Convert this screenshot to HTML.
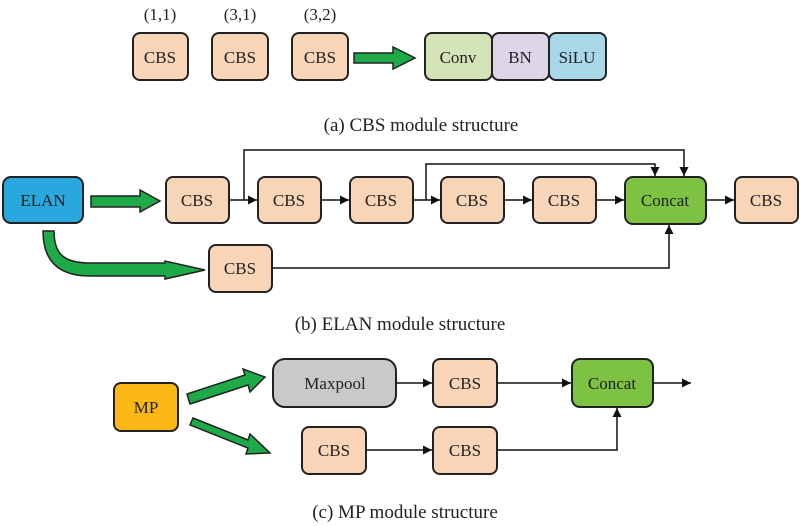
<!DOCTYPE html>
<html><head><meta charset="utf-8"><style>
html,body{margin:0;padding:0;background:#fff;}
svg{display:block;}
text{font-family:"Liberation Serif",serif;fill:#222;}
</style></head><body>
<svg width="800" height="526" viewBox="0 0 800 526" xmlns="http://www.w3.org/2000/svg">
<defs>
<marker id="ah" viewBox="0 0 10 10" refX="10" refY="5" markerWidth="9" markerHeight="9" markerUnits="userSpaceOnUse" orient="auto"><path d="M0,0 L10,5 L0,10 z" fill="#111"/></marker>
</defs>
<g stroke="#222" stroke-width="2">
<!-- (a) -->
<rect x="133" y="33" width="55" height="47" rx="7" fill="#f9d5b8"/>
<rect x="212" y="33" width="56" height="47" rx="7" fill="#f9d5b8"/>
<rect x="292" y="33" width="56" height="47" rx="7" fill="#f9d5b8"/>
<rect x="425" y="33" width="67" height="47" rx="7" fill="#d5e4b8"/>
<rect x="492" y="33" width="57" height="47" rx="7" fill="#dcd5e8"/>
<rect x="549" y="33" width="57" height="47" rx="7" fill="#a8d8e8"/>
<path d="M354,53 H393 V47 L415,58 L393,69 V63 H354 Z" fill="#1faa4a" stroke-width="1.5"/>
<!-- (b) -->
<rect x="3" y="177" width="80" height="46" rx="8" fill="#29a8e0"/>
<rect x="166" y="177" width="63" height="46" rx="7" fill="#f9d5b8"/>
<rect x="258" y="177" width="63" height="46" rx="7" fill="#f9d5b8"/>
<rect x="350" y="177" width="63" height="46" rx="7" fill="#f9d5b8"/>
<rect x="441" y="177" width="63" height="46" rx="7" fill="#f9d5b8"/>
<rect x="533" y="177" width="63" height="46" rx="7" fill="#f9d5b8"/>
<rect x="625" y="177" width="81" height="47" rx="8" fill="#7dc242"/>
<rect x="735" y="177" width="63" height="46" rx="7" fill="#f9d5b8"/>
<rect x="209" y="245" width="63" height="47" rx="7" fill="#f9d5b8"/>
<path d="M91,196 H140 V190 L160,201 L140,212 V207 H91 Z" fill="#1faa4a" stroke-width="1.5"/>
<path d="M43,231 H54 C54,255 65,263 90,263 H165 V261 L205,270 L165,279 V276 H90 C60,276 43,262 43,231 Z" fill="#1faa4a" stroke-width="1.5"/>
<!-- (c) -->
<rect x="114" y="383" width="64" height="48" rx="7" fill="#fbb814"/>
<rect x="273" y="359" width="123" height="48" rx="12" fill="#c8c9cb"/>
<rect x="433" y="359" width="64" height="48" rx="7" fill="#f9d5b8"/>
<rect x="572" y="359" width="81" height="48" rx="8" fill="#7dc242"/>
<rect x="302" y="427" width="64" height="47" rx="7" fill="#f9d5b8"/>
<rect x="433" y="427" width="64" height="47" rx="7" fill="#f9d5b8"/>
<path d="M187,394 L245,375 L243,369 L265,377 L250,392 L248,385 L190,404 Z" fill="#1faa4a" stroke-width="1.5"/>
<path d="M193,418 L248,440 L250,434 L270,453 L246,454 L248,448 L190,425 Z" fill="#1faa4a" stroke-width="1.5"/>
</g>
<g stroke="#111" stroke-width="1.5" fill="none">
<line x1="229" y1="200" x2="257" y2="200" marker-end="url(#ah)"/>
<polyline points="244,200 244,150 684,150 684,176" marker-end="url(#ah)"/>
<line x1="321" y1="200" x2="349" y2="200" marker-end="url(#ah)"/>
<line x1="413" y1="200" x2="440" y2="200" marker-end="url(#ah)"/>
<polyline points="426,200 426,164 655,164 655,176" marker-end="url(#ah)"/>
<line x1="504" y1="200" x2="532" y2="200" marker-end="url(#ah)"/>
<line x1="596" y1="200" x2="624" y2="200" marker-end="url(#ah)"/>
<line x1="706" y1="200" x2="734" y2="200" marker-end="url(#ah)"/>
<polyline points="272,268 669,268 669,225" marker-end="url(#ah)"/>
<line x1="396" y1="383" x2="432" y2="383" marker-end="url(#ah)"/>
<line x1="497" y1="383" x2="571" y2="383" marker-end="url(#ah)"/>
<line x1="653" y1="383" x2="691" y2="383" marker-end="url(#ah)"/>
<line x1="366" y1="450" x2="432" y2="450" marker-end="url(#ah)"/>
<polyline points="497,450 617,450 617,408" marker-end="url(#ah)"/>
</g>
<g font-size="17" text-anchor="middle">
<text x="160" y="20">(1,1)</text>
<text x="240" y="20">(3,1)</text>
<text x="320" y="20">(3,2)</text>
<text x="160" y="63">CBS</text>
<text x="240" y="63">CBS</text>
<text x="320" y="63">CBS</text>
<text x="458" y="63">Conv</text>
<text x="520" y="63">BN</text>
<text x="577" y="63">SiLU</text>
<text x="43" y="206">ELAN</text>
<text x="197" y="206">CBS</text>
<text x="289" y="206">CBS</text>
<text x="381" y="206">CBS</text>
<text x="472" y="206">CBS</text>
<text x="564" y="206">CBS</text>
<text x="665" y="206">Concat</text>
<text x="766" y="206">CBS</text>
<text x="240" y="274">CBS</text>
<text x="146" y="413">MP</text>
<text x="335" y="389">Maxpool</text>
<text x="465" y="389">CBS</text>
<text x="612" y="389">Concat</text>
<text x="334" y="456">CBS</text>
<text x="465" y="456">CBS</text>
</g>
<g font-size="19" text-anchor="middle">
<text x="421" y="131">(a)  CBS module structure</text>
<text x="400" y="330">(b)  ELAN module structure</text>
<text x="405" y="518">(c)  MP module structure</text>
</g>
</svg>
</body></html>
